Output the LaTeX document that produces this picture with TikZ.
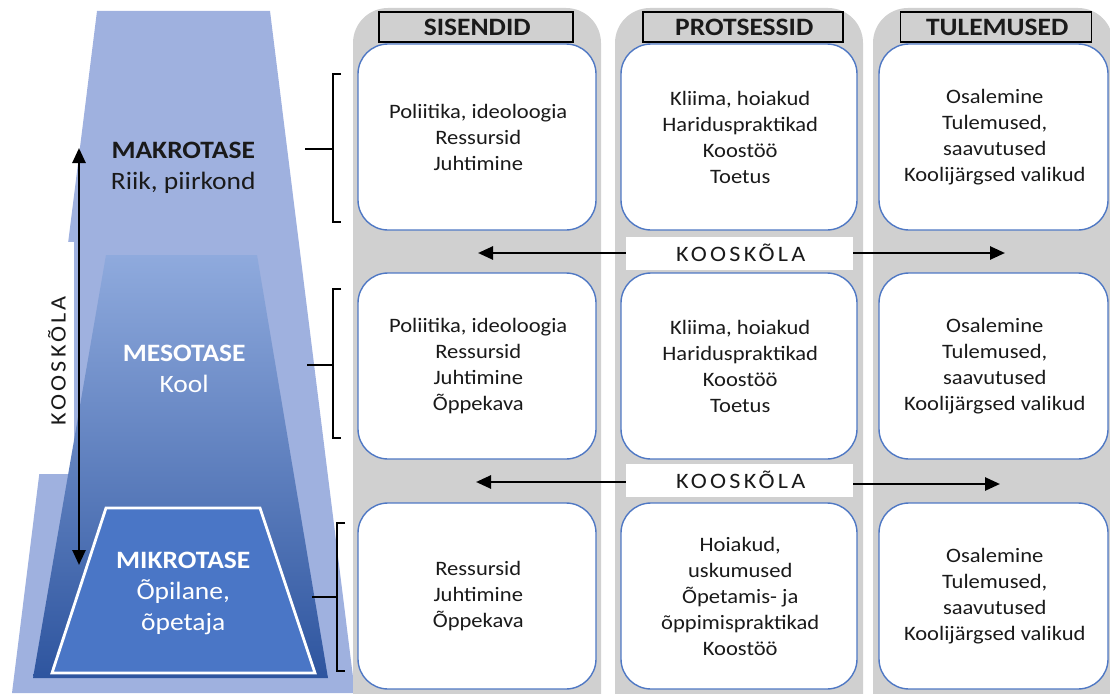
\documentclass[tikz,border=0pt]{standalone}
\usepackage{fontspec}
\setmainfont{Carlito}[FakeStretch=1.1]
\usetikzlibrary{calc, shapes, arrows.meta, positioning}
\definecolor{outerblue}{HTML}{9FB1DF}
\definecolor{mesotop}{HTML}{8FAADD}
\definecolor{mesomid}{HTML}{5A80CC}
\definecolor{mesobot}{HTML}{2E559F}
\definecolor{microblue}{HTML}{4A76C6}
\definecolor{panelgray}{HTML}{D0D0D0}
\definecolor{boxblue}{HTML}{4F78C4}
\definecolor{inktext}{HTML}{1A1A1A}

\begin{document}
\begin{tikzpicture}[x=1pt, y=-1pt,
	panel/.style={fill=panelgray, rounded corners=35pt, minimum width=248pt, minimum height=732pt, inner sep=0pt},
	itembox/.style={draw=boxblue, line width=1.4pt, fill=white, rounded corners=30pt, minimum height=186pt, align=center, text=inktext, inner sep=0pt, font=\myfontbox},
	headbox/.style={draw=black, line width=1.6pt, fill=panelgray, minimum height=30pt, inner sep=0pt, text=inktext, font=\myfonthead},
	agreebox/.style={fill=white, minimum width=227pt, minimum height=33pt, inner sep=0pt, text=inktext, font=\myfontagree},
	levelname/.style={align=center, font=\myfontlevel},
	agreearrow/.style={line width=2.6pt, -{Triangle[length=15pt, width=13pt]}},
	bracketline/.style={line width=2.4pt}]
	\newcommand{\myfontbox}{
		\fontsize{20.5}{26}\selectfont
	}\newcommand{\myfonthead}{
		\fontsize{25}{28}\selectfont\bfseries
	}\newcommand{\myfontlevel}{
		\fontsize{25}{31}\selectfont
	}\newcommand{\myfontagree}{
		\fontsize{22}{24}\selectfont\addfontfeature{LetterSpace=15}
	}%Page frame
	\useasboundingbox (0,0) rectangle (1110,693);
	%Outer hull of the pyramid
	\fill[outerblue] (97,11) -- (270,11) -- (355,693) -- (12,693) -- cycle;
	\fill[white] (20,242) rectangle (74,474);
	%Middle level
	\shade[top color=mesotop, middle color=mesomid, bottom color=mesobot] (106,255) -- (257,255) -- (328,678) -- (33,678) -- cycle;
	%Lowest level
	\filldraw[draw=white, line width=2.8pt, fill=microblue] (106,508) -- (260,508) -- (315,673) -- (52,673) -- cycle;
	%Level names
	\node [levelname, text=inktext] (macro) at (182,168) {\textbf{MAKROTASE}\\Riik, piirkond};
	\node [levelname, text=white] (meso) at (183,369) {\textbf{MESOTASE}\\Kool};
	\node [levelname, text=white] (micro) at (182,593) {\textbf{MIKROTASE}\\Õpilane,\\õpetaja};
	%Vertical alignment arrow
	\coordinate (alignTop) at (79,148);
	\coordinate (alignBot) at (79,565);
	\draw[line width=2.6pt, {Triangle[length=15pt, width=13pt]}-{Triangle[length=15pt, width=13pt]}] (alignTop) -- (alignBot);
	\node [rotate=90, text=inktext, font=\myfontagree] (alignLabel) at (57,362) {KOOSKÕLA};
	%Brackets towards the rows
	\foreach \btop/\bbot/\bmid/\bx/\sx in {74/222/149/333/305, 289/438/365/333/307, 523/671/597/337/312} {
		\draw[bracketline] (\bx+8,\btop) -- (\bx,\btop) -- (\bx,\bbot) -- (\bx+8,\bbot);
		\draw[bracketline] (\sx,\bmid) -- (\bx,\bmid);
	}
	%Gray column panels
	\node [panel] (panelIn) at (477,374) {};
	\node [panel] (panelPro) at (739,374) {};
	\node [panel, minimum width=240pt] (panelOut) at (993,374) {};
	%Column headers
	\node [headbox, minimum width=194pt] (headIn) at (476,27) {SISENDID};
	\node [headbox, minimum width=200pt] (headPro) at (743,27) {PROTSESSID};
	\node [headbox, minimum width=191pt] (headOut) at (996,27) {TULEMUSED};
	%Row 1
	\node [itembox, minimum width=238pt] (in1) at (477,137) {Poliitika, ideoloogia\\Ressursid\\Juhtimine};
	\node [itembox, minimum width=236pt] (pro1) at (739,137) {Kliima, hoiakud\\Hariduspraktikad\\Koostöö\\Toetus};
	\node [itembox, minimum width=229pt] (out1) at (993.5,137) {Osalemine\\Tulemused,\\saavutused\\Koolijärgsed valikud};
	%Row 2
	\node [itembox, minimum width=238pt] (in2) at (477,366) {Poliitika, ideoloogia\\Ressursid\\Juhtimine\\Õppekava};
	\node [itembox, minimum width=236pt] (pro2) at (739,366) {Kliima, hoiakud\\Hariduspraktikad\\Koostöö\\Toetus};
	\node [itembox, minimum width=229pt] (out2) at (993.5,366) {Osalemine\\Tulemused,\\saavutused\\Koolijärgsed valikud};
	%Row 3
	\node [itembox, minimum width=238pt] (in3) at (477,596) {Ressursid\\Juhtimine\\Õppekava};
	\node [itembox, minimum width=236pt] (pro3) at (739,596) {Hoiakud,\\uskumused\\Õpetamis- ja\\õppimispraktikad\\Koostöö};
	\node [itembox, minimum width=229pt] (out3) at (993.5,596) {Osalemine\\Tulemused,\\saavutused\\Koolijärgsed valikud};
	%Alignment between the rows
	\node [agreebox] (agree1) at (739.5,253) {KOOSKÕLA};
	\node [agreebox] (agree2) at (739.5,480) {KOOSKÕLA};
	\coordinate (agree1l) at (478,253);
	\coordinate (agree1r) at (1005,253);
	\coordinate (agree2l) at (476,482);
	\coordinate (agree2r) at (1000,484);
	\draw[agreearrow] (agree1.west) -- (agree1l);
	\draw[agreearrow] (agree1.east) -- (agree1r);
	\draw[agreearrow] (agree2.west |- agree2l) -- (agree2l);
	\draw[agreearrow] (agree2.east |- agree2r) -- (agree2r);
\end{tikzpicture}
\end{document}
